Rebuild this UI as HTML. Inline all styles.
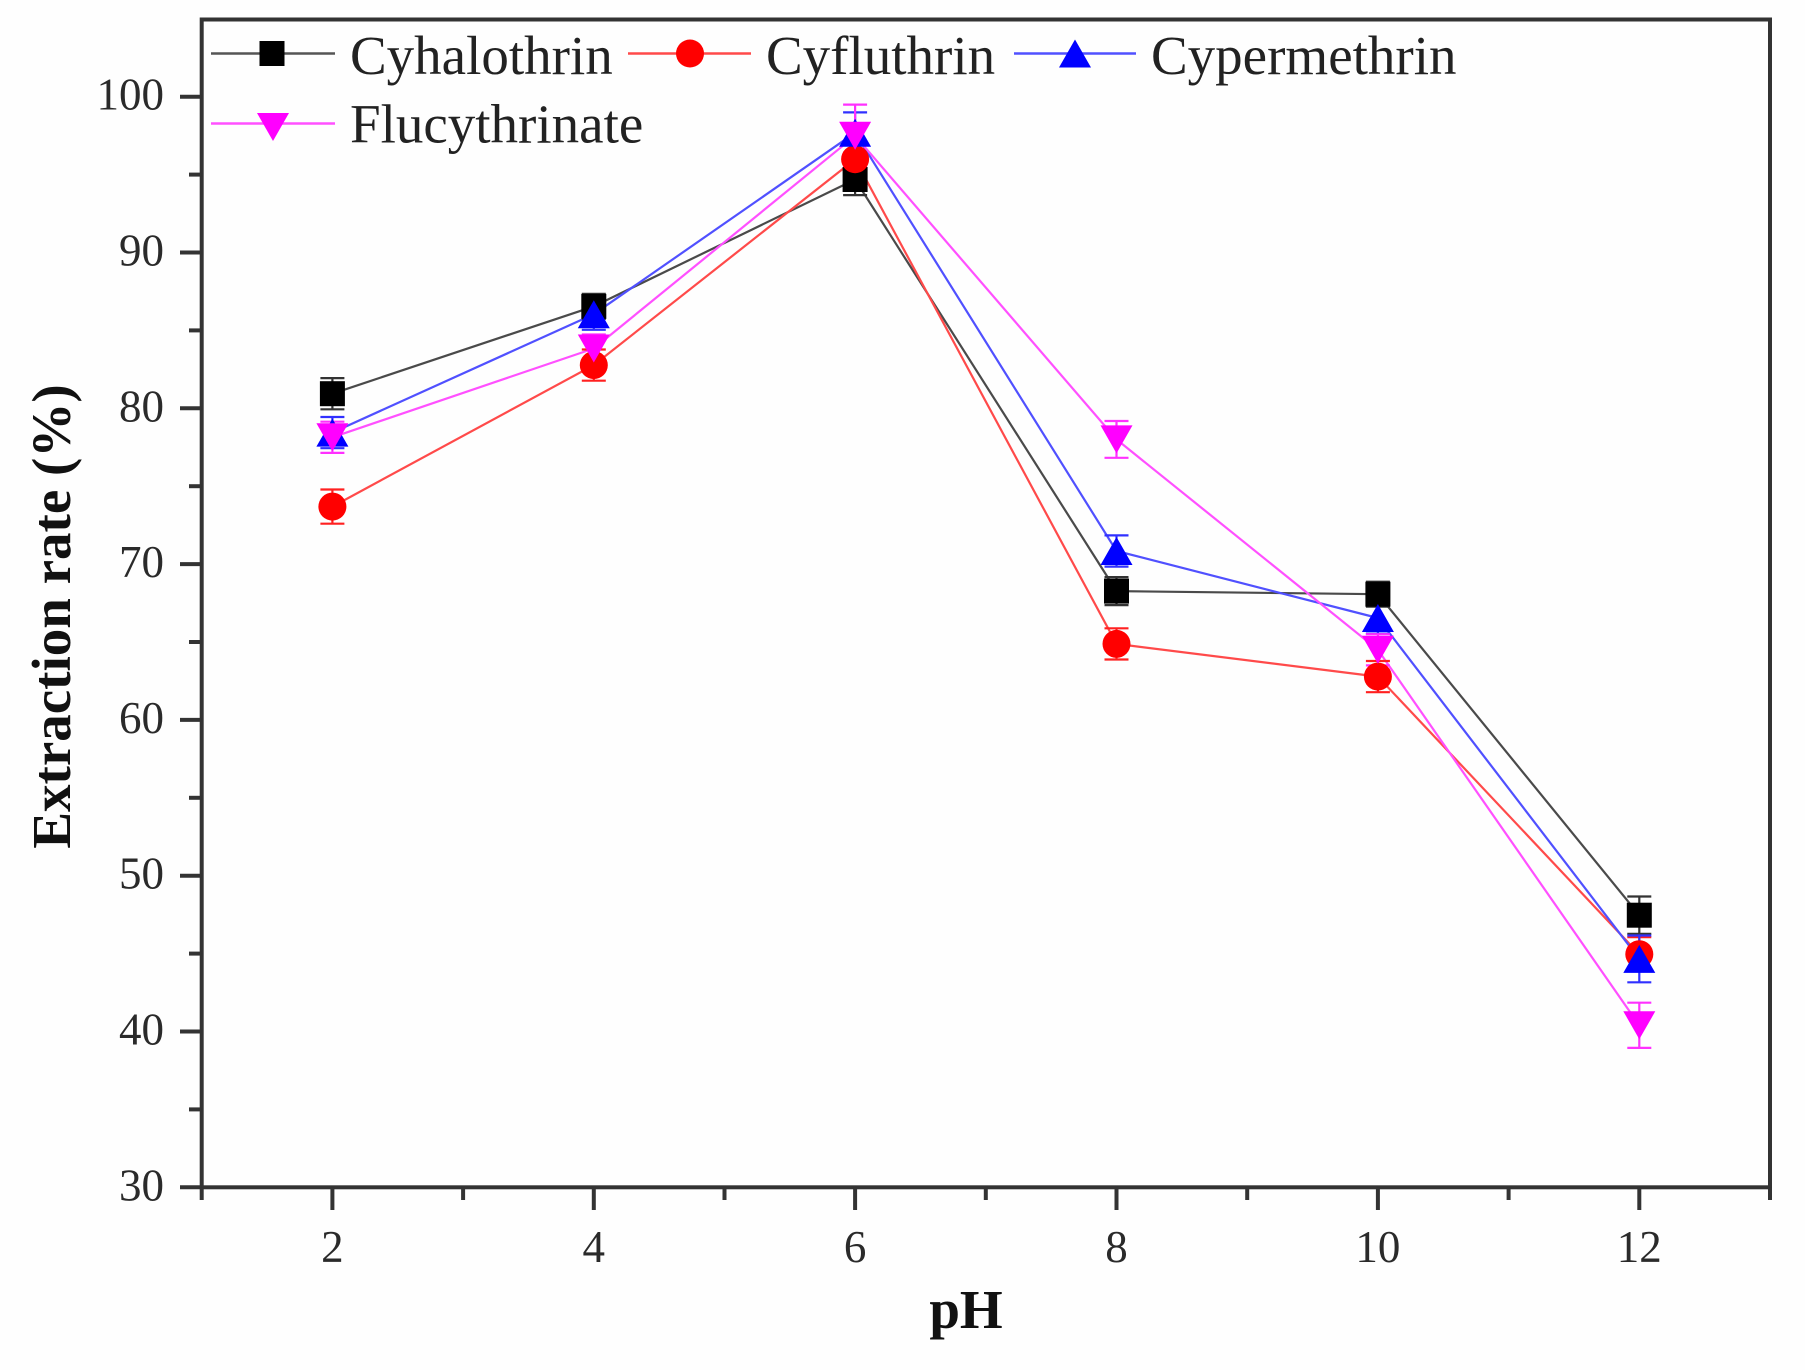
<!DOCTYPE html>
<html><head><meta charset="utf-8"><style>
html,body{margin:0;padding:0;background:#fff;}
svg{display:block;}
text{font-family:"Liberation Serif","Times New Roman",serif;}
</style></head><body>
<svg width="1805" height="1370" viewBox="0 0 1805 1370" xmlns="http://www.w3.org/2000/svg">
<rect x="0" y="0" width="1805" height="1370" fill="#fefefe"/>
<!-- axes frame -->
<g stroke="#333" stroke-width="4" fill="none">
<rect x="201.7" y="19.5" width="1568.3" height="1167.8"/>
</g>
<!-- ticks -->
<g stroke="#333" stroke-width="4">
<!-- y major -->
<line x1="180" y1="1187.3" x2="201.7" y2="1187.3"/>
<line x1="180" y1="1031.5" x2="201.7" y2="1031.5"/>
<line x1="180" y1="875.7" x2="201.7" y2="875.7"/>
<line x1="180" y1="719.9" x2="201.7" y2="719.9"/>
<line x1="180" y1="564.1" x2="201.7" y2="564.1"/>
<line x1="180" y1="408.3" x2="201.7" y2="408.3"/>
<line x1="180" y1="252.5" x2="201.7" y2="252.5"/>
<line x1="180" y1="96.7" x2="201.7" y2="96.7"/>
<!-- y minor -->
<line x1="189" y1="1109.4" x2="201.7" y2="1109.4"/>
<line x1="189" y1="953.6" x2="201.7" y2="953.6"/>
<line x1="189" y1="797.8" x2="201.7" y2="797.8"/>
<line x1="189" y1="642.0" x2="201.7" y2="642.0"/>
<line x1="189" y1="486.2" x2="201.7" y2="486.2"/>
<line x1="189" y1="330.4" x2="201.7" y2="330.4"/>
<line x1="189" y1="174.6" x2="201.7" y2="174.6"/>
<!-- x major -->
<line x1="332.4" y1="1187.3" x2="332.4" y2="1210"/>
<line x1="593.8" y1="1187.3" x2="593.8" y2="1210"/>
<line x1="855.1" y1="1187.3" x2="855.1" y2="1210"/>
<line x1="1116.5" y1="1187.3" x2="1116.5" y2="1210"/>
<line x1="1377.9" y1="1187.3" x2="1377.9" y2="1210"/>
<line x1="1639.3" y1="1187.3" x2="1639.3" y2="1210"/>
<!-- x minor -->
<line x1="201.7" y1="1187.3" x2="201.7" y2="1200"/>
<line x1="463.1" y1="1187.3" x2="463.1" y2="1200"/>
<line x1="724.5" y1="1187.3" x2="724.5" y2="1200"/>
<line x1="985.8" y1="1187.3" x2="985.8" y2="1200"/>
<line x1="1247.2" y1="1187.3" x2="1247.2" y2="1200"/>
<line x1="1508.6" y1="1187.3" x2="1508.6" y2="1200"/>
<line x1="1770" y1="1187.3" x2="1770" y2="1200"/>
</g>
<!-- y tick labels -->
<g font-size="45" fill="#2a2a2a" text-anchor="end">
<text x="164" y="1200.3">30</text>
<text x="164" y="1044.5">40</text>
<text x="164" y="888.7">50</text>
<text x="164" y="732.9">60</text>
<text x="164" y="577.1">70</text>
<text x="164" y="421.3">80</text>
<text x="164" y="265.5">90</text>
<text x="164" y="109.7">100</text>
</g>
<!-- x tick labels -->
<g font-size="45" fill="#2a2a2a" text-anchor="middle">
<text x="332.4" y="1262">2</text>
<text x="593.8" y="1262">4</text>
<text x="855.1" y="1262">6</text>
<text x="1116.5" y="1262">8</text>
<text x="1377.9" y="1262">10</text>
<text x="1639.3" y="1262">12</text>
</g>
<!-- axis titles -->
<text x="966" y="1328" font-size="55" font-weight="bold" fill="#111" text-anchor="middle">pH</text>
<text transform="translate(70,616.5) rotate(-90)" font-size="55" font-weight="bold" fill="#111" text-anchor="middle">Extraction rate (%)</text>

<!-- series lines -->
<g fill="none" stroke-width="2.2" stroke-linejoin="round">
<polyline stroke="#4a4a4a" points="332.4,393.7 593.8,306.4 855.1,179.5 1116.5,591.1 1377.9,594.2 1639.3,915.2"/>
<polyline stroke="#ff4a4a" points="332.4,506.6 593.8,365.1 855.1,159.2 1116.5,643.9 1377.9,676.6 1639.3,954.2"/>
<polyline stroke="#5050ff" points="332.4,432.6 593.8,314.2 855.1,132.7 1116.5,551.0 1377.9,618.0 1639.3,958.9"/>
<polyline stroke="#ff50ff" points="332.4,437.3 593.8,348.5 855.1,135.8 1116.5,439.4 1377.9,649.8 1639.3,1025.3"/>
</g>

<!-- error bars -->
<g stroke-width="2.2" fill="none">
<g stroke="#333">
<path d="M332.4,378.1V409.3M320.4,378.1h24M320.4,409.3h24"/>
<path d="M593.8,293.9V318.9M581.8,293.9h24M581.8,318.9h24"/>
<path d="M855.1,163.9V195.1M843.1,163.9h24M843.1,195.1h24"/>
<path d="M1116.5,577.1V605.1M1104.5,577.1h24M1104.5,605.1h24"/>
<path d="M1377.9,581.7V606.7M1365.9,581.7h24M1365.9,606.7h24"/>
<path d="M1639.3,896.5V933.9M1627.3,896.5h24M1627.3,933.9h24"/>
</g>
<g stroke="#ff2020">
<path d="M332.4,489.5V523.7M320.4,489.5h24M320.4,523.7h24"/>
<path d="M593.8,349.5V380.7M581.8,349.5h24M581.8,380.7h24"/>
<path d="M855.1,143.6V174.8M843.1,143.6h24M843.1,174.8h24"/>
<path d="M1116.5,628.3V659.5M1104.5,628.3h24M1104.5,659.5h24"/>
<path d="M1377.9,661.0V692.2M1365.9,661.0h24M1365.9,692.2h24"/>
<path d="M1639.3,937.1V971.3M1627.3,937.1h24M1627.3,971.3h24"/>
</g>
<g stroke="#3030ff">
<path d="M332.4,417.0V448.2M320.4,417.0h24M320.4,448.2h24"/>
<path d="M593.8,298.6V329.8M581.8,298.6h24M581.8,329.8h24"/>
<path d="M855.1,112.4V153.0M843.1,112.4h24M843.1,153.0h24"/>
<path d="M1116.5,535.4V566.6M1104.5,535.4h24M1104.5,566.6h24"/>
<path d="M1377.9,602.4V633.6M1365.9,602.4h24M1365.9,633.6h24"/>
<path d="M1639.3,935.5V982.3M1627.3,935.5h24M1627.3,982.3h24"/>
</g>
<g stroke="#ff30ff">
<path d="M332.4,421.7V452.9M320.4,421.7h24M320.4,452.9h24"/>
<path d="M593.8,334.5V362.5M581.8,334.5h24M581.8,362.5h24"/>
<path d="M855.1,104.6V167.0M843.1,104.6h24M843.1,167.0h24"/>
<path d="M1116.5,421.0V457.8M1104.5,421.0h24M1104.5,457.8h24"/>
<path d="M1377.9,634.2V665.4M1365.9,634.2h24M1365.9,665.4h24"/>
<path d="M1639.3,1002.7V1047.9M1627.3,1002.7h24M1627.3,1047.9h24"/>
</g>
</g>

<!-- markers: black squares -->
<g fill="#000">
<rect x="319.9" y="381.2" width="25" height="25"/>
<rect x="581.3" y="293.9" width="25" height="25"/>
<rect x="842.6" y="167.0" width="25" height="25"/>
<rect x="1104.0" y="578.6" width="25" height="25"/>
<rect x="1365.4" y="581.7" width="25" height="25"/>
<rect x="1626.8" y="902.7" width="25" height="25"/>
</g>
<!-- red circles -->
<g fill="#ff0000">
<circle cx="332.4" cy="506.6" r="14"/>
<circle cx="593.8" cy="365.1" r="14"/>
<circle cx="855.1" cy="159.2" r="14"/>
<circle cx="1116.5" cy="643.9" r="14"/>
<circle cx="1377.9" cy="676.6" r="14"/>
<circle cx="1639.3" cy="954.2" r="14"/>
</g>
<!-- blue up triangles -->
<g fill="#0000ff">
<polygon points="332.4,418.6 348.4,446.6 316.4,446.6"/>
<polygon points="593.8,300.2 609.8,328.2 577.8,328.2"/>
<polygon points="855.1,118.7 871.1,146.7 839.1,146.7"/>
<polygon points="1116.5,537.0 1132.5,565.0 1100.5,565.0"/>
<polygon points="1377.9,604.0 1393.9,632.0 1361.9,632.0"/>
<polygon points="1639.3,944.9 1655.3,972.9 1623.3,972.9"/>
</g>
<!-- magenta down triangles -->
<g fill="#ff00ff">
<polygon points="316.4,423.3 348.4,423.3 332.4,451.3"/>
<polygon points="577.8,334.5 609.8,334.5 593.8,362.5"/>
<polygon points="839.1,121.8 871.1,121.8 855.1,149.8"/>
<polygon points="1100.5,425.4 1132.5,425.4 1116.5,453.4"/>
<polygon points="1361.9,635.8 1393.9,635.8 1377.9,663.8"/>
<polygon points="1623.3,1011.3 1655.3,1011.3 1639.3,1039.3"/>
</g>

<!-- legend -->
<g stroke-width="2.4">
<line x1="211" y1="53.5" x2="335" y2="53.5" stroke="#555"/>
<line x1="628" y1="53.5" x2="751" y2="53.5" stroke="#ff4a4a"/>
<line x1="1014" y1="53.5" x2="1136" y2="53.5" stroke="#5050ff"/>
<line x1="211" y1="123.5" x2="335" y2="123.5" stroke="#ff50ff"/>
</g>
<rect x="259.5" y="41" width="25" height="25" fill="#000"/>
<circle cx="690" cy="53.5" r="14" fill="#ff0000"/>
<polygon points="1075,39.5 1091,67.5 1059,67.5" fill="#0000ff"/>
<polygon points="257,113 289,113 273,141" fill="#ff00ff"/>
<g font-size="55" fill="#222">
<text x="350" y="74">Cyhalothrin</text>
<text x="766" y="74">Cyfluthrin</text>
<text x="1151" y="74">Cypermethrin</text>
<text x="350" y="142.5">Flucythrinate</text>
</g>
</svg>
</body></html>
